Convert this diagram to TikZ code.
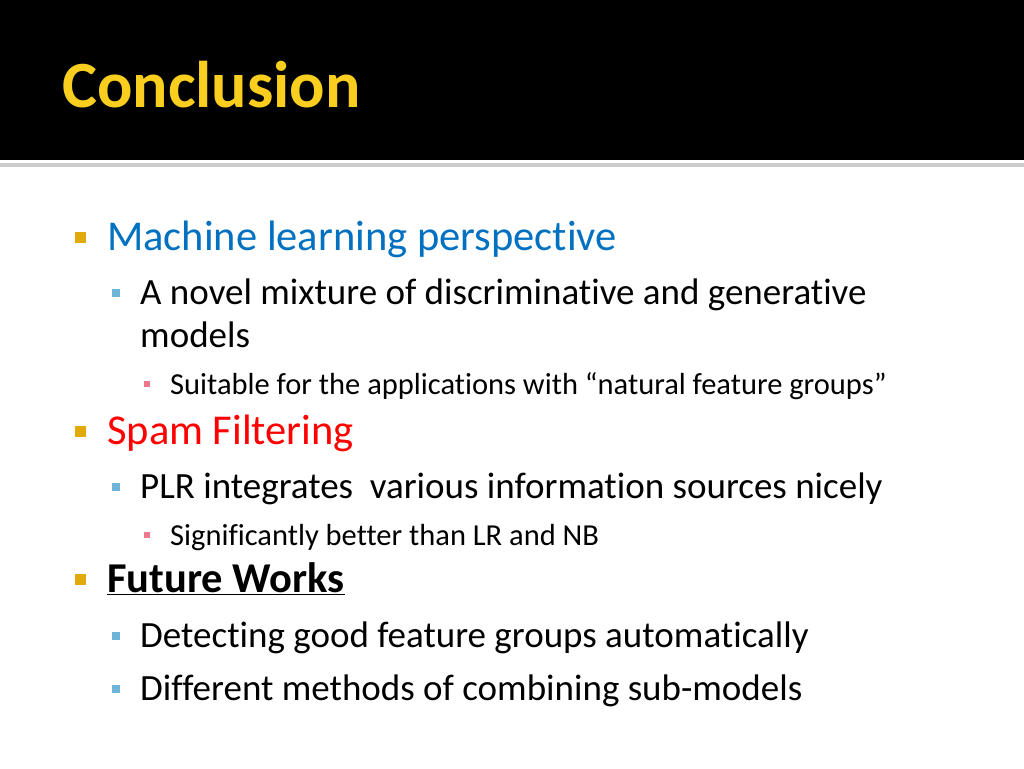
\documentclass[tikz,border=0pt]{standalone}
\usepackage{fontspec}
\setmainfont[Ligatures=NoCommon]{Carlito}
\usetikzlibrary{positioning}
\definecolor{titleyellow}{RGB}{250,206,30}
\definecolor{headblue}{RGB}{0,112,192}
\definecolor{bulgold}{RGB}{225,170,10}
\definecolor{bulblue}{RGB}{110,180,215}
\definecolor{bulpink}{RGB}{235,120,140}
\tikzset{
  lvlone/.style={anchor=base west,inner sep=0pt,font=\fontsize{42.5}{48}\selectfont},
  lvltwo/.style={anchor=base west,inner sep=0pt,font=\fontsize{37}{44}\selectfont},
  lvlthree/.style={anchor=base west,inner sep=0pt,font=\fontsize{30.5}{36}\selectfont},
  bulone/.style={fill=bulgold,minimum size=11pt,inner sep=0pt},
  bultwo/.style={fill=bulblue,minimum size=8pt,inner sep=0pt},
  bulthree/.style={fill=bulpink,minimum size=6pt,inner sep=0pt}
}
\begin{document}
\begin{tikzpicture}[x=1pt,y=-1pt]
  \useasboundingbox (0,0) rectangle (1024,768);
  % header
  \fill[black] (0,0) rectangle (1024,160);
  \fill[gray!40] (0,163) rectangle (1024,167);
  \node[anchor=base west,inner sep=0pt,text=titleyellow,
    font=\fontsize{66}{72}\selectfont\bfseries] (title) at (62,107) {Conclusion};
  % machine learning
  \node[bulone] (b1) at (80,237) {};
  \node[lvlone,text=headblue] (ml) at (107,250) {Machine learning perspective};
  \node[bultwo] (b2) at (116,293) {};
  \node[lvltwo] (mix) at (140,304) {A novel mixture of discriminative and generative};
  \node[lvltwo] (mod) at (140,347) {models};
  \node[bulthree] (b3) at (147,384) {};
  \node[lvlthree] (suit) at (170,394) {Suitable for the applications with “natural feature groups”};
  % spam
  \node[bulone] (b4) at (80,431) {};
  \node[lvlone,text=red] (spam) at (107,444) {Spam Filtering};
  \node[bultwo] (b5) at (116,487) {};
  \node[lvltwo] (plr) at (140,498) {PLR integrates\ \ various information sources nicely};
  \node[bulthree] (b6) at (147,535) {};
  \node[lvlthree] (sig) at (170,545) {Significantly better than LR and NB};
  % future
  \node[bulone] (b7) at (80,579) {};
  \node[lvlone] (fut) at (107,592) {\bfseries\underline{Future Works}};
  \node[bultwo] (b8) at (116,636) {};
  \node[lvltwo] (det) at (140,647) {Detecting good feature groups automatically};
  \node[bultwo] (b9) at (116,689) {};
  \node[lvltwo] (dif) at (140,700) {Different methods of combining sub-models};
\end{tikzpicture}
\end{document}
